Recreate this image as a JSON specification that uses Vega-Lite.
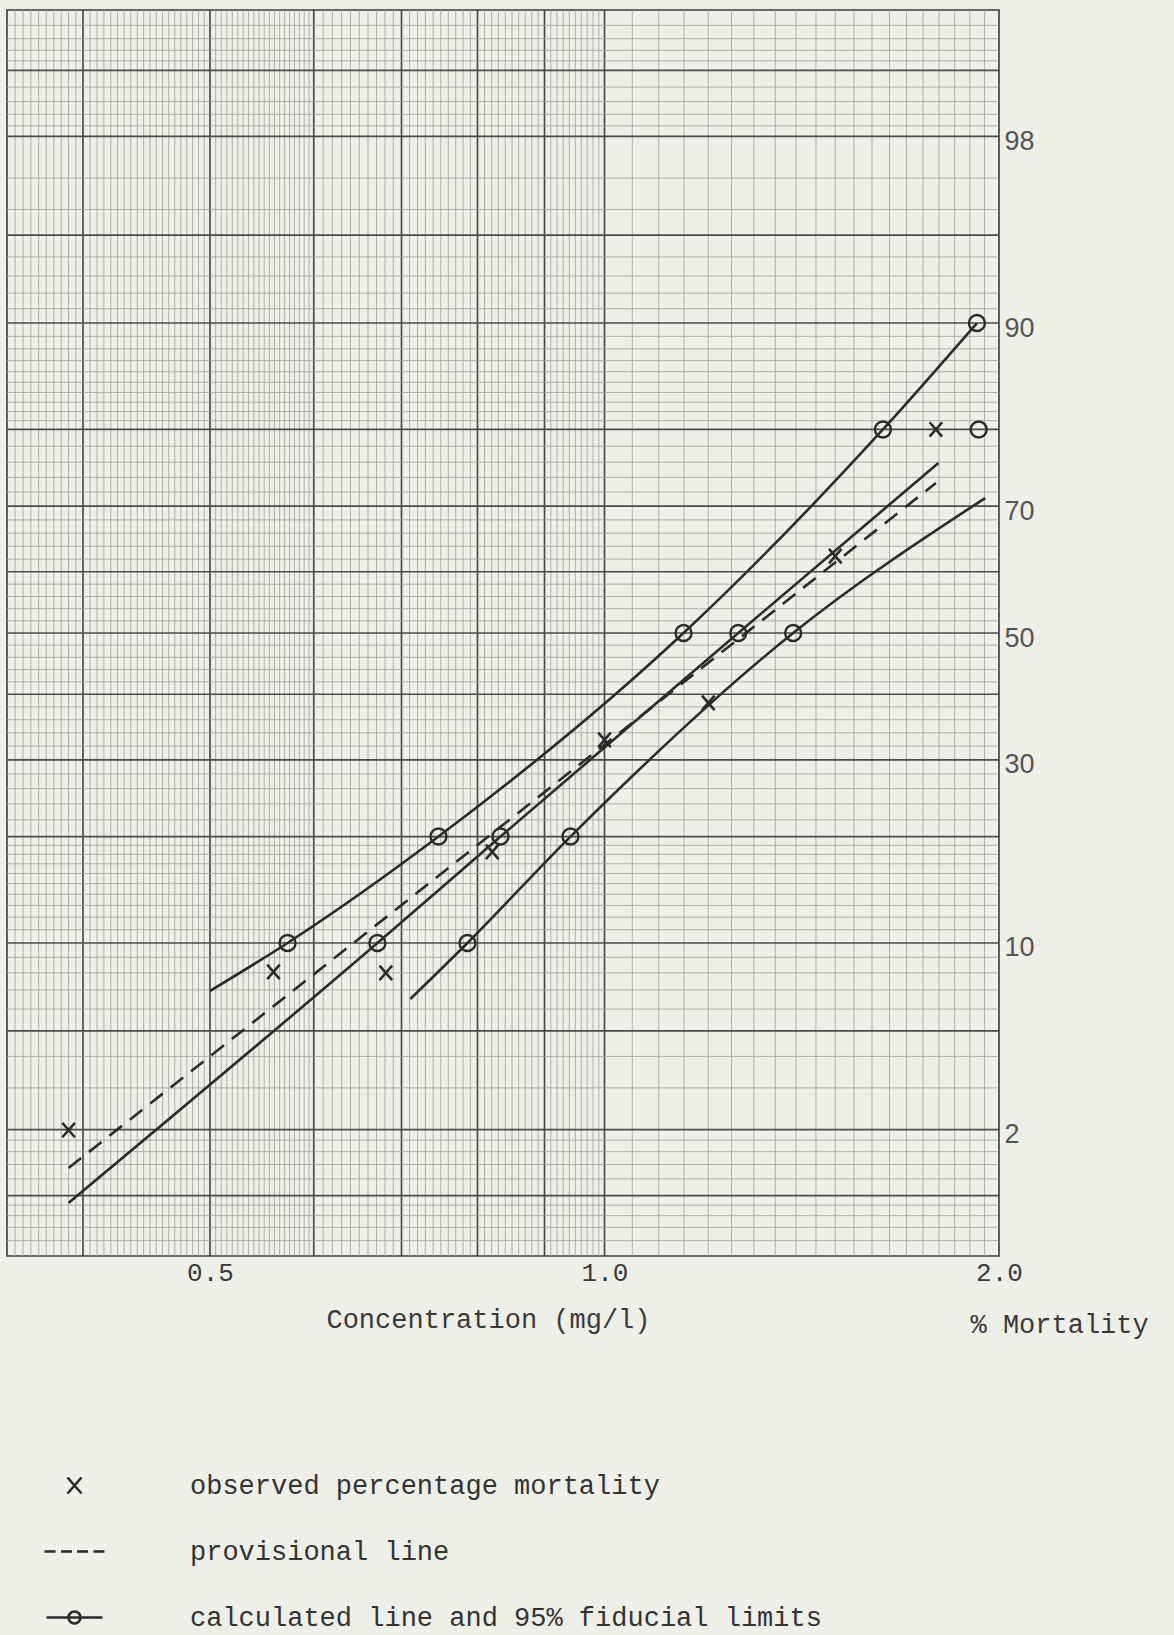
{
  "$schema": "https://vega.github.io/schema/vega-lite/v6.json",
  "autosize": "none",
  "width": 992,
  "height": 1246,
  "padding": {"left": 7, "top": 10, "right": 175, "bottom": 379},
  "background": "#eeefe7",
  "config": {
    "font": "Liberation Mono",
    "view": {"stroke": "#3a3a3a", "strokeWidth": 1.6}
  },
  "datasets": {
    "vminor": [
      {"c":0.355},{"c":0.36},{"c":0.365},{"c":0.37},{"c":0.375},{"c":0.38},{"c":0.385},{"c":0.39},{"c":0.395},
      {"c":0.405},{"c":0.41},{"c":0.415},{"c":0.42},{"c":0.425},{"c":0.43},{"c":0.435},{"c":0.44},{"c":0.445},{"c":0.45},{"c":0.455},{"c":0.46},{"c":0.465},{"c":0.47},{"c":0.475},{"c":0.48},{"c":0.485},{"c":0.49},{"c":0.495},
      {"c":0.505},{"c":0.51},{"c":0.515},{"c":0.52},{"c":0.525},{"c":0.53},{"c":0.535},{"c":0.54},{"c":0.545},{"c":0.55},{"c":0.555},{"c":0.56},{"c":0.565},{"c":0.57},{"c":0.575},{"c":0.58},{"c":0.585},{"c":0.59},{"c":0.595},
      {"c":0.61},{"c":0.62},{"c":0.63},{"c":0.64},{"c":0.65},{"c":0.66},{"c":0.67},{"c":0.68},{"c":0.69},
      {"c":0.71},{"c":0.72},{"c":0.73},{"c":0.74},{"c":0.75},{"c":0.76},{"c":0.77},{"c":0.78},{"c":0.79},
      {"c":0.81},{"c":0.82},{"c":0.83},{"c":0.84},{"c":0.85},{"c":0.86},{"c":0.87},{"c":0.88},{"c":0.89},
      {"c":0.91},{"c":0.92},{"c":0.93},{"c":0.94},{"c":0.95},{"c":0.96},{"c":0.97},{"c":0.98},{"c":0.99},
      {"c":1.05},{"c":1.1},{"c":1.15},{"c":1.2},{"c":1.25},{"c":1.3},{"c":1.35},{"c":1.4},{"c":1.45},{"c":1.5},{"c":1.55},{"c":1.6},{"c":1.65},{"c":1.7},{"c":1.75},{"c":1.8},{"c":1.85},{"c":1.9},{"c":1.95}
    ],
    "vmajor": [
      {"c":0.4},{"c":0.5},{"c":0.6},{"c":0.7},{"c":0.8},{"c":0.9},{"c":1.0}
    ],
    "hminor": [
      {"pct":0.6,"z":-2.5121},{"pct":0.7,"z":-2.4573},{"pct":0.8,"z":-2.4089},{"pct":0.9,"z":-2.3656},
      {"pct":1.2,"z":-2.2571},{"pct":1.4,"z":-2.1973},{"pct":1.6,"z":-2.1444},{"pct":1.8,"z":-2.0969},
      {"pct":3,"z":-1.8808},{"pct":4,"z":-1.7507},
      {"pct":6,"z":-1.5548},{"pct":7,"z":-1.4758},{"pct":8,"z":-1.4051},{"pct":9,"z":-1.3408},
      {"pct":11,"z":-1.2265},{"pct":12,"z":-1.175},{"pct":13,"z":-1.1264},{"pct":14,"z":-1.0803},{"pct":15,"z":-1.0364},{"pct":16,"z":-0.9945},{"pct":17,"z":-0.9542},{"pct":18,"z":-0.9154},{"pct":19,"z":-0.8779},
      {"pct":22,"z":-0.7722},{"pct":24,"z":-0.7063},{"pct":26,"z":-0.6433},{"pct":28,"z":-0.5828},
      {"pct":32,"z":-0.4677},{"pct":34,"z":-0.4125},{"pct":36,"z":-0.3585},{"pct":38,"z":-0.3055},
      {"pct":42,"z":-0.2019},{"pct":44,"z":-0.151},{"pct":46,"z":-0.1004},{"pct":48,"z":-0.0502},
      {"pct":52,"z":0.0502},{"pct":54,"z":0.1004},{"pct":56,"z":0.151},{"pct":58,"z":0.2019},
      {"pct":62,"z":0.3055},{"pct":64,"z":0.3585},{"pct":66,"z":0.4125},{"pct":68,"z":0.4677},
      {"pct":72,"z":0.5828},{"pct":74,"z":0.6433},{"pct":76,"z":0.7063},{"pct":78,"z":0.7722},
      {"pct":81,"z":0.8779},{"pct":82,"z":0.9154},{"pct":83,"z":0.9542},{"pct":84,"z":0.9945},{"pct":85,"z":1.0364},{"pct":86,"z":1.0803},{"pct":87,"z":1.1264},{"pct":88,"z":1.175},{"pct":89,"z":1.2265},
      {"pct":91,"z":1.3408},{"pct":92,"z":1.4051},{"pct":93,"z":1.4758},{"pct":94,"z":1.5548},
      {"pct":96,"z":1.7507},{"pct":97,"z":1.8808},
      {"pct":98.2,"z":2.0969},{"pct":98.4,"z":2.1444},{"pct":98.6,"z":2.1973},{"pct":98.8,"z":2.2571},
      {"pct":99.1,"z":2.3656},{"pct":99.2,"z":2.4089},{"pct":99.3,"z":2.4573},{"pct":99.4,"z":2.5121}
    ],
    "hmajor": [
      {"pct":1,"z":-2.3263},{"pct":2,"z":-2.0537},{"pct":5,"z":-1.6449},{"pct":10,"z":-1.2816},{"pct":20,"z":-0.8416},
      {"pct":30,"z":-0.5244},{"pct":40,"z":-0.2533},{"pct":50,"z":0},{"pct":60,"z":0.2533},{"pct":70,"z":0.5244},
      {"pct":80,"z":0.8416},{"pct":90,"z":1.2816},{"pct":95,"z":1.6449},{"pct":98,"z":2.0537},{"pct":99,"z":2.3263}
    ],
    "fitted": [
      {"s":"upper","c":0.5,"z":-1.48},
      {"s":"upper","c":0.573,"z":-1.2816},
      {"s":"upper","c":0.747,"z":-0.8416},
      {"s":"upper","c":1.149,"z":0},
      {"s":"upper","c":1.631,"z":0.8416},
      {"s":"upper","c":1.924,"z":1.2816},
      {"s":"calc","c":0.39,"z":-2.356},
      {"s":"calc","c":0.671,"z":-1.2816},
      {"s":"calc","c":0.833,"z":-0.8416},
      {"s":"calc","c":1.265,"z":0},
      {"s":"calc","c":1.798,"z":0.703},
      {"s":"lower","c":0.711,"z":-1.513},
      {"s":"lower","c":0.786,"z":-1.2816},
      {"s":"lower","c":0.942,"z":-0.8416},
      {"s":"lower","c":1.393,"z":0},
      {"s":"lower","c":1.952,"z":0.558}
    ],
    "provisional": [
      {"c":0.39,"z":-2.212},
      {"c":1.79,"z":0.62}
    ],
    "circles": [
      {"c":0.573,"z":-1.2816},{"c":0.747,"z":-0.8416},{"c":1.149,"z":0},{"c":1.631,"z":0.8416},{"c":1.924,"z":1.2816},
      {"c":0.671,"z":-1.2816},{"c":0.833,"z":-0.8416},{"c":1.265,"z":0},
      {"c":0.786,"z":-1.2816},{"c":0.942,"z":-0.8416},{"c":1.393,"z":0},
      {"c":1.93,"z":0.8416}
    ],
    "observed": [
      {"s":"observed percentage mortality","c":0.39,"z":-2.055},
      {"s":"observed percentage mortality","c":0.559,"z":-1.401},
      {"s":"observed percentage mortality","c":0.681,"z":-1.405},
      {"s":"observed percentage mortality","c":0.821,"z":-0.905},
      {"s":"observed percentage mortality","c":1.0,"z":-0.442},
      {"s":"observed percentage mortality","c":1.2,"z":-0.289},
      {"s":"observed percentage mortality","c":1.5,"z":0.318},
      {"s":"observed percentage mortality","c":1.79,"z":0.8416}
    ]
  },
  "layer": [
    {
      "data": {"name": "vminor"},
      "mark": {"type": "rule", "color": "#a09f98", "strokeWidth": 0.8},
      "encoding": {
        "x": {
          "field": "c", "type": "quantitative",
          "scale": {"type": "log", "domain": [0.35, 2.0], "nice": false},
          "axis": {
            "values": [0.5, 1, 2], "format": ".1f",
            "grid": false, "ticks": false, "domain": false,
            "labelFont": "Liberation Mono", "labelFontSize": 26, "labelColor": "#3a3a3a",
            "labelPadding": 16, "labelBaseline": "middle", "labelFlush": false, "labelOverlap": false,
            "title": "Concentration (mg/l)", "titleFont": "Liberation Mono", "titleFontSize": 27,
            "titleFontWeight": "normal", "titleColor": "#3a3a3a",
            "titleX": 481, "titleY": 63, "titleBaseline": "middle"
          }
        }
      }
    },
    {
      "data": {"name": "vmajor"},
      "mark": {"type": "rule", "color": "#4a4a4a", "strokeWidth": 1.7},
      "encoding": {"x": {"field": "c", "type": "quantitative"}}
    },
    {
      "data": {"name": "hminor"},
      "mark": {"type": "rule", "color": "#a09f98", "strokeWidth": 0.8},
      "encoding": {
        "y": {
          "field": "z", "type": "quantitative",
          "scale": {"domain": [-2.5758, 2.5758], "nice": false, "zero": false},
          "axis": {
            "orient": "right",
            "values": [-2.0537, -1.2816, -0.5244, 0, 0.5244, 1.2816, 2.0537],
            "labelExpr": "datum.value < -2 ? '2' : datum.value < -1 ? '10' : datum.value < -0.3 ? '30' : datum.value < 0.3 ? '50' : datum.value < 1 ? '70' : datum.value < 2 ? '90' : '98'",
            "grid": false, "ticks": false, "domain": false,
            "labelFont": "Liberation Sans", "labelFontSize": 27, "labelColor": "#555555",
            "labelPadding": 5, "labelOffset": 5, "labelFlush": false, "labelOverlap": false,
            "title": "% Mortality", "titleAngle": 0, "titleAlign": "left", "titleBaseline": "middle",
            "titleX": -29, "titleY": 1314,
            "titleFont": "Liberation Mono", "titleFontSize": 27, "titleFontWeight": "normal", "titleColor": "#3a3a3a"
          }
        }
      }
    },
    {
      "data": {"name": "hmajor"},
      "mark": {"type": "rule", "color": "#4a4a4a", "strokeWidth": 1.7},
      "encoding": {"y": {"field": "z", "type": "quantitative"}}
    },
    {
      "data": {"name": "provisional"},
      "mark": {"type": "line", "color": "#2b2b2b", "strokeWidth": 2.6, "strokeDash": [16, 10]},
      "encoding": {
        "x": {"field": "c", "type": "quantitative"},
        "y": {"field": "z", "type": "quantitative"}
      }
    },
    {
      "data": {"name": "fitted"},
      "mark": {"type": "line", "color": "#2b2b2b", "strokeWidth": 2.6, "interpolate": "monotone"},
      "encoding": {
        "x": {"field": "c", "type": "quantitative"},
        "y": {"field": "z", "type": "quantitative"},
        "detail": {"field": "s", "type": "nominal"}
      }
    },
    {
      "data": {"name": "circles"},
      "mark": {"type": "point", "shape": "circle", "filled": false, "size": 256, "color": "#2b2b2b", "strokeWidth": 2.4, "opacity": 1},
      "encoding": {
        "x": {"field": "c", "type": "quantitative"},
        "y": {"field": "z", "type": "quantitative"}
      }
    },
    {
      "data": {"name": "observed"},
      "mark": {"type": "point", "filled": false, "size": 324, "color": "#2b2b2b", "strokeWidth": 2.6, "opacity": 1},
      "encoding": {
        "x": {"field": "c", "type": "quantitative"},
        "y": {"field": "z", "type": "quantitative"},
        "shape": {
          "field": "s", "type": "nominal",
          "scale": {
            "domain": ["observed percentage mortality", "provisional line", "calculated line and 95% fiducial limits"],
            "range": [
              "M-0.7,-0.8L0.7,0.8M-0.7,0.8L0.7,-0.8",
              "M-3.0,0L-1.9,0M-1.35,0L-0.25,0M0.25,0L1.35,0M1.9,0L3.0,0",
              "M-2.8,0L2.8,0M0.6,0A0.6,0.6,0,1,1,-0.6,0A0.6,0.6,0,1,1,0.6,0"
            ]
          },
          "legend": {
            "orient": "none", "legendX": 54, "legendY": 1462, "title": null, "padding": 0,
            "symbolSize": 400, "symbolStrokeWidth": 2.6, "symbolStrokeColor": "#2b2b2b", "symbolFillColor": "transparent",
            "labelFont": "Liberation Mono", "labelFontSize": 27, "labelColor": "#333333", "labelOffset": 102,
            "labelLimit": 0, "rowPadding": 38
          }
        }
      }
    }
  ]
}
